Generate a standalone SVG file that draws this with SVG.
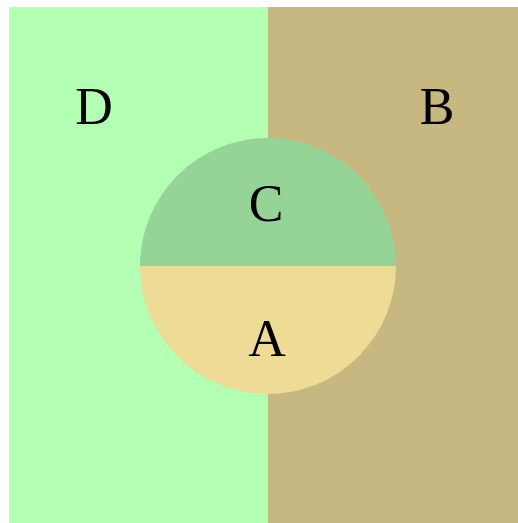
<svg xmlns="http://www.w3.org/2000/svg" width="518" height="523" viewBox="0 0 518 523">
<style>
text{font-family:"Liberation Serif","Times New Roman",serif;font-size:52px;fill:#000;text-anchor:middle}
</style>
<rect width="518" height="523" fill="#fff"/>
<g id="D"><rect x="9" y="7" width="259" height="516" fill="#b3ffb3"/><text x="94" y="124">D</text></g>
<g id="B"><rect x="268" y="7" width="250" height="516" fill="#c7b780"/><text x="437" y="124">B</text></g>
<g id="C"><path d="M140,266 A128,128 0 0 1 396,266 Z" fill="#96d396"/><text x="266" y="221">C</text></g>
<g id="A"><path d="M140,266 A128,128 0 0 0 396,266 Z" fill="#eddb96"/><text x="267" y="356">A</text></g>
<g id="connectors"/>
</svg>
